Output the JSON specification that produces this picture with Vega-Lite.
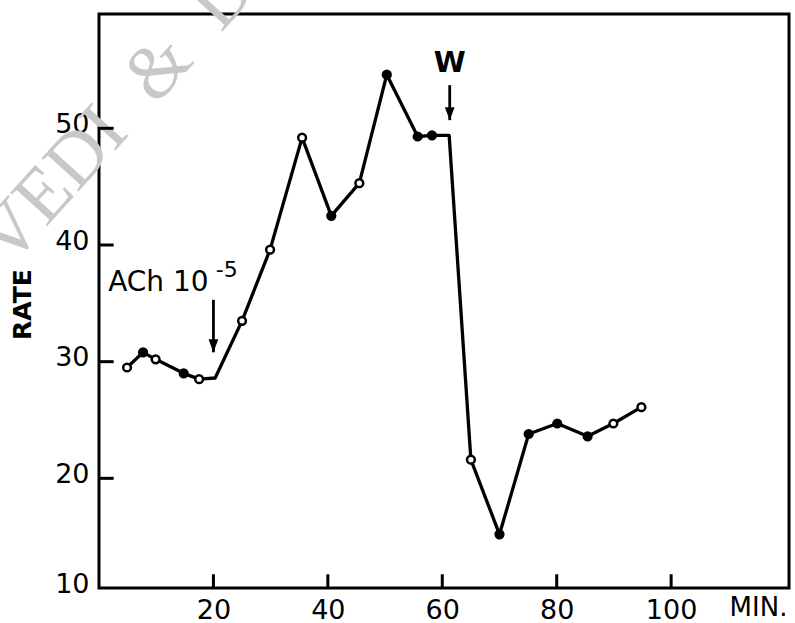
{
  "$schema": "https://vega.github.io/schema/vega-lite/v6.json",
  "width": 690,
  "height": 574,
  "autosize": {"type": "none"},
  "padding": {"left": 99, "top": 14, "right": 6, "bottom": 35},
  "background": "white",
  "config": {
    "view": {"stroke": "black", "strokeWidth": 3},
    "font": "DejaVu Sans"
  },
  "datasets": {
    "series": [
      {"min": 4.9, "rate": 29.5, "symbol": "open"},
      {"min": 7.7, "rate": 30.8, "symbol": "solid"},
      {"min": 9.9, "rate": 30.2, "symbol": "open"},
      {"min": 14.8, "rate": 29.0, "symbol": "solid"},
      {"min": 17.5, "rate": 28.5, "symbol": "open"},
      {"min": 20.3, "rate": 28.6, "symbol": "none"},
      {"min": 25.0, "rate": 33.5, "symbol": "open"},
      {"min": 29.9, "rate": 39.6, "symbol": "open"},
      {"min": 35.5, "rate": 49.2, "symbol": "open"},
      {"min": 40.6, "rate": 42.5, "symbol": "solid"},
      {"min": 45.5, "rate": 45.3, "symbol": "open"},
      {"min": 50.3, "rate": 54.6, "symbol": "solid"},
      {"min": 55.7, "rate": 49.3, "symbol": "solid"},
      {"min": 58.2, "rate": 49.4, "symbol": "solid"},
      {"min": 61.2, "rate": 49.4, "symbol": "none"},
      {"min": 65.0, "rate": 21.6, "symbol": "open"},
      {"min": 70.0, "rate": 15.2, "symbol": "solid"},
      {"min": 75.1, "rate": 23.8, "symbol": "solid"},
      {"min": 80.1, "rate": 24.7, "symbol": "solid"},
      {"min": 85.4, "rate": 23.6, "symbol": "solid"},
      {"min": 89.9, "rate": 24.7, "symbol": "open"},
      {"min": 94.8, "rate": 26.1, "symbol": "open"}
    ],
    "xticks": [
      {"min": 20, "lo": 10.75, "hi": 11.65},
      {"min": 40, "lo": 10.75, "hi": 11.65},
      {"min": 60, "lo": 10.75, "hi": 11.65},
      {"min": 80, "lo": 10.75, "hi": 11.65},
      {"min": 100, "lo": 10.75, "hi": 11.65}
    ],
    "yticks": [
      {"rate": 20, "lo": 0.25, "hi": 2.3},
      {"rate": 30, "lo": 0.25, "hi": 2.3},
      {"rate": 40, "lo": 0.25, "hi": 2.3},
      {"rate": 50, "lo": 0.25, "hi": 2.3}
    ],
    "arrows": [
      {"min": 20.0, "from": 35.3, "to": 30.8},
      {"min": 61.3, "from": 53.7, "to": 50.7}
    ],
    "ach": [{"min": 1.6, "rate": 36.1, "label": "ACh 10"}],
    "sup": [{"min": 20.4, "rate": 37.3, "label": "-5"}],
    "wash": [{"min": 61.3, "rate": 55.6, "label": "W"}],
    "watermark": [{"min": -18.7, "rate": 39.3, "label": "VEDI\u00a0\u00a0&\u00a0 D"}]
  },
  "layer": [
    {
      "data": {"name": "series"},
      "mark": {"type": "line", "color": "black", "strokeWidth": 3.3, "strokeJoin": "round"},
      "encoding": {
        "x": {
          "field": "min",
          "type": "quantitative",
          "scale": {"domain": [0, 120.6], "nice": false, "zero": false},
          "axis": {
            "values": [20, 40, 60, 80, 100],
            "title": "MIN.",
            "grid": false,
            "domain": false,
            "ticks": false,
            "labelPadding": 9,
            "labelFontSize": 27,
            "labelColor": "black",
            "labelFlush": false,
            "titleFontSize": 26,
            "titleFontWeight": "normal",
            "titleColor": "black",
            "titleX": 659,
            "titleY": 19,
            "titleAlign": "center",
            "titleBaseline": "middle",
            "titleAnchor": null
          }
        },
        "y": {
          "field": "rate",
          "type": "quantitative",
          "scale": {"domain": [10.6, 59.8], "nice": false, "zero": false},
          "axis": {
            "values": [10.6, 20, 30, 40, 50],
            "labelExpr": "datum.value < 15 ? '10' : datum.label",
            "title": "RATE",
            "grid": false,
            "domain": false,
            "ticks": false,
            "labelPadding": 10,
            "labelFontSize": 27,
            "labelColor": "black",
            "labelOffset": -4,
            "labelFlush": false,
            "titleFontSize": 25,
            "titleFontWeight": "bold",
            "titleColor": "black",
            "titleAngle": -90,
            "titleX": -77,
            "titleY": 290,
            "titleAlign": "center",
            "titleBaseline": "middle"
          }
        }
      }
    },
    {
      "data": {"name": "watermark"},
      "mark": {"type": "text", "align": "left", "baseline": "middle", "angle": -48, "font": "Liberation Serif", "fontSize": 76, "color": "#c8c8c8"},
      "encoding": {
        "x": {"field": "min", "type": "quantitative"},
        "y": {"field": "rate", "type": "quantitative"},
        "text": {"field": "label"}
      }
    },
    {
      "data": {"name": "xticks"},
      "mark": {"type": "rule", "color": "black", "strokeWidth": 3, "strokeCap": "square"},
      "encoding": {
        "x": {"field": "min", "type": "quantitative"},
        "y": {"field": "lo", "type": "quantitative"},
        "y2": {"field": "hi"}
      }
    },
    {
      "data": {"name": "yticks"},
      "mark": {"type": "rule", "color": "black", "strokeWidth": 3, "strokeCap": "square"},
      "encoding": {
        "y": {"field": "rate", "type": "quantitative"},
        "x": {"field": "lo", "type": "quantitative"},
        "x2": {"field": "hi"}
      }
    },
    {
      "data": {"name": "series"},
      "transform": [{"filter": "datum.symbol != 'none'"}],
      "mark": {"type": "point", "shape": "circle", "filled": true, "size": 60, "stroke": "black", "strokeWidth": 2.5, "opacity": 1},
      "encoding": {
        "x": {"field": "min", "type": "quantitative"},
        "y": {"field": "rate", "type": "quantitative"},
        "fill": {"field": "symbol", "type": "nominal", "scale": {"domain": ["open", "solid"], "range": ["white", "black"]}, "legend": null}
      }
    },
    {
      "data": {"name": "arrows"},
      "mark": {"type": "rule", "color": "black", "strokeWidth": 2.8},
      "encoding": {
        "x": {"field": "min", "type": "quantitative"},
        "y": {"field": "from", "type": "quantitative"},
        "y2": {"field": "to"}
      }
    },
    {
      "data": {"name": "arrows"},
      "mark": {"type": "point", "shape": "M-0.75,-2L0,0L0.75,-2Z", "filled": true, "color": "black", "size": 169, "opacity": 1},
      "encoding": {
        "x": {"field": "min", "type": "quantitative"},
        "y": {"field": "to", "type": "quantitative"}
      }
    },
    {
      "data": {"name": "ach"},
      "mark": {"type": "text", "align": "left", "baseline": "alphabetic", "fontSize": 28, "color": "black"},
      "encoding": {
        "x": {"field": "min", "type": "quantitative"},
        "y": {"field": "rate", "type": "quantitative"},
        "text": {"field": "label"}
      }
    },
    {
      "data": {"name": "sup"},
      "mark": {"type": "text", "align": "left", "baseline": "alphabetic", "fontSize": 22, "color": "black"},
      "encoding": {
        "x": {"field": "min", "type": "quantitative"},
        "y": {"field": "rate", "type": "quantitative"},
        "text": {"field": "label"}
      }
    },
    {
      "data": {"name": "wash"},
      "mark": {"type": "text", "align": "center", "baseline": "middle", "fontSize": 29, "fontWeight": "bold", "color": "black"},
      "encoding": {
        "x": {"field": "min", "type": "quantitative"},
        "y": {"field": "rate", "type": "quantitative"},
        "text": {"field": "label"}
      }
    }
  ]
}
